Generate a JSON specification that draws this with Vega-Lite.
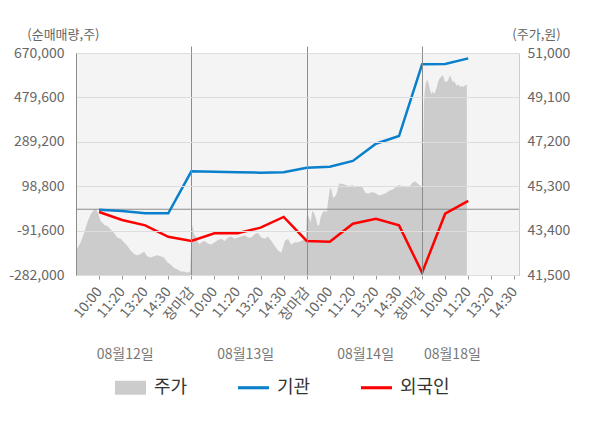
{
  "$schema": "https://vega.github.io/schema/vega-lite/v6.json",
  "width": 443,
  "height": 222,
  "padding": {"left": 8, "top": 28, "right": 5, "bottom": 5},
  "background": "#ffffff",
  "datasets": {
    "price": [
      {"t": 0, "p": 42650}, {"t": 0.06, "p": 42650}, {"t": 0.2, "p": 42900}, {"t": 0.35, "p": 43300},
      {"t": 0.49, "p": 43750}, {"t": 0.64, "p": 44100}, {"t": 0.78, "p": 44300}, {"t": 0.87, "p": 44300},
      {"t": 0.95, "p": 44150}, {"t": 1.07, "p": 43800}, {"t": 1.14, "p": 43750}, {"t": 1.21, "p": 43650},
      {"t": 1.36, "p": 43600}, {"t": 1.5, "p": 43450}, {"t": 1.65, "p": 43300}, {"t": 1.79, "p": 43100},
      {"t": 1.94, "p": 43050}, {"t": 2.08, "p": 42900}, {"t": 2.22, "p": 42750}, {"t": 2.37, "p": 42550},
      {"t": 2.51, "p": 42400}, {"t": 2.66, "p": 42350}, {"t": 2.8, "p": 42400}, {"t": 2.95, "p": 42500},
      {"t": 3.09, "p": 42300}, {"t": 3.24, "p": 42250}, {"t": 3.38, "p": 42300}, {"t": 3.52, "p": 42350},
      {"t": 3.67, "p": 42300}, {"t": 3.81, "p": 42250}, {"t": 3.96, "p": 42050}, {"t": 4.1, "p": 41950},
      {"t": 4.25, "p": 41800}, {"t": 4.39, "p": 41750}, {"t": 4.54, "p": 41650}, {"t": 4.68, "p": 41650},
      {"t": 4.83, "p": 41600}, {"t": 4.95, "p": 41650},
      {"t": 5.0, "p": 43050}, {"t": 5.03, "p": 43450}, {"t": 5.06, "p": 43650}, {"t": 5.11, "p": 43250},
      {"t": 5.22, "p": 43100}, {"t": 5.29, "p": 42900}, {"t": 5.36, "p": 42800}, {"t": 5.43, "p": 42900},
      {"t": 5.58, "p": 42950}, {"t": 5.72, "p": 42850}, {"t": 5.87, "p": 42800}, {"t": 6.01, "p": 42900},
      {"t": 6.15, "p": 43000}, {"t": 6.3, "p": 43050}, {"t": 6.44, "p": 42950}, {"t": 6.59, "p": 43100},
      {"t": 6.73, "p": 43150}, {"t": 6.88, "p": 43050}, {"t": 7.02, "p": 43100}, {"t": 7.17, "p": 43150},
      {"t": 7.31, "p": 43200}, {"t": 7.46, "p": 43100}, {"t": 7.6, "p": 43100}, {"t": 7.75, "p": 43250},
      {"t": 7.89, "p": 43300}, {"t": 8.03, "p": 43100}, {"t": 8.18, "p": 43050}, {"t": 8.32, "p": 43150},
      {"t": 8.47, "p": 42950}, {"t": 8.61, "p": 42750}, {"t": 8.76, "p": 42550}, {"t": 8.9, "p": 42450},
      {"t": 9.05, "p": 42950}, {"t": 9.19, "p": 43050}, {"t": 9.33, "p": 42800}, {"t": 9.48, "p": 42900},
      {"t": 9.62, "p": 42900}, {"t": 9.77, "p": 42950}, {"t": 9.91, "p": 43050}, {"t": 9.97, "p": 43100},
      {"t": 10.0, "p": 43950}, {"t": 10.03, "p": 44150}, {"t": 10.1, "p": 43950}, {"t": 10.17, "p": 43750},
      {"t": 10.24, "p": 44250}, {"t": 10.32, "p": 44150}, {"t": 10.39, "p": 43950}, {"t": 10.46, "p": 43650},
      {"t": 10.53, "p": 43600}, {"t": 10.61, "p": 44000}, {"t": 10.68, "p": 44150}, {"t": 10.75, "p": 44250},
      {"t": 10.87, "p": 44200}, {"t": 10.92, "p": 44600}, {"t": 11.01, "p": 45250}, {"t": 11.07, "p": 45150},
      {"t": 11.15, "p": 44800}, {"t": 11.26, "p": 44900}, {"t": 11.33, "p": 45100}, {"t": 11.4, "p": 45400},
      {"t": 11.54, "p": 45400}, {"t": 11.69, "p": 45350}, {"t": 11.83, "p": 45300}, {"t": 11.98, "p": 45350},
      {"t": 12.12, "p": 45250}, {"t": 12.27, "p": 45300}, {"t": 12.41, "p": 45250}, {"t": 12.56, "p": 45000},
      {"t": 12.7, "p": 45000}, {"t": 12.84, "p": 45050}, {"t": 12.99, "p": 45000}, {"t": 13.13, "p": 44900},
      {"t": 13.28, "p": 44950}, {"t": 13.42, "p": 45000}, {"t": 13.57, "p": 45100}, {"t": 13.71, "p": 45150},
      {"t": 13.86, "p": 45250}, {"t": 14.0, "p": 45350}, {"t": 14.14, "p": 45300}, {"t": 14.29, "p": 45250},
      {"t": 14.43, "p": 45250}, {"t": 14.58, "p": 45450}, {"t": 14.72, "p": 45500}, {"t": 14.87, "p": 45350},
      {"t": 14.97, "p": 45300},
      {"t": 15.03, "p": 45300}, {"t": 15.06, "p": 47650}, {"t": 15.08, "p": 48800}, {"t": 15.11, "p": 49350},
      {"t": 15.17, "p": 49750}, {"t": 15.23, "p": 49850}, {"t": 15.29, "p": 49650}, {"t": 15.34, "p": 49450},
      {"t": 15.4, "p": 49250}, {"t": 15.46, "p": 49350}, {"t": 15.52, "p": 49250}, {"t": 15.57, "p": 49350},
      {"t": 15.63, "p": 49500}, {"t": 15.69, "p": 49750}, {"t": 15.75, "p": 49900}, {"t": 15.81, "p": 49950},
      {"t": 15.86, "p": 50050}, {"t": 15.92, "p": 50000}, {"t": 15.98, "p": 49800}, {"t": 16.04, "p": 49750},
      {"t": 16.1, "p": 49800}, {"t": 16.15, "p": 49900}, {"t": 16.21, "p": 50050}, {"t": 16.27, "p": 49900},
      {"t": 16.33, "p": 49750}, {"t": 16.39, "p": 49800}, {"t": 16.44, "p": 49700}, {"t": 16.5, "p": 49600},
      {"t": 16.56, "p": 49650}, {"t": 16.62, "p": 49600}, {"t": 16.67, "p": 49550}, {"t": 16.73, "p": 49600},
      {"t": 16.79, "p": 49550}, {"t": 16.85, "p": 49600}, {"t": 16.94, "p": 49650}
    ],
    "flow": [
      {"t": 1, "s": "기관", "v": -2000}, {"t": 2, "s": "기관", "v": -7500}, {"t": 3, "s": "기관", "v": -17000},
      {"t": 4, "s": "기관", "v": -17500}, {"t": 5, "s": "기관", "v": 162500}, {"t": 6, "s": "기관", "v": 161000},
      {"t": 7, "s": "기관", "v": 158500}, {"t": 8, "s": "기관", "v": 157000}, {"t": 9, "s": "기관", "v": 158500},
      {"t": 10, "s": "기관", "v": 178000}, {"t": 11, "s": "기관", "v": 182500}, {"t": 12, "s": "기관", "v": 207000},
      {"t": 13, "s": "기관", "v": 281000}, {"t": 14, "s": "기관", "v": 314000}, {"t": 15, "s": "기관", "v": 621500},
      {"t": 16, "s": "기관", "v": 622500}, {"t": 17, "s": "기관", "v": 647000},
      {"t": 1, "s": "외국인", "v": -12000}, {"t": 2, "s": "외국인", "v": -46000}, {"t": 3, "s": "외국인", "v": -69000},
      {"t": 4, "s": "외국인", "v": -118000}, {"t": 5, "s": "외국인", "v": -136000}, {"t": 6, "s": "외국인", "v": -103000},
      {"t": 7, "s": "외국인", "v": -103000}, {"t": 8, "s": "외국인", "v": -79000}, {"t": 9, "s": "외국인", "v": -33000},
      {"t": 10, "s": "외국인", "v": -136000}, {"t": 11, "s": "외국인", "v": -139000}, {"t": 12, "s": "외국인", "v": -62000},
      {"t": 13, "s": "외국인", "v": -40500}, {"t": 14, "s": "외국인", "v": -69000}, {"t": 15, "s": "외국인", "v": -272000},
      {"t": 16, "s": "외국인", "v": -19000}, {"t": 17, "s": "외국인", "v": 35500}
    ]
  },
  "layer": [
    {
      "data": {"name": "price"},
      "mark": {"type": "area", "opacity": 1, "clip": true},
      "encoding": {
        "x": {
          "field": "t",
          "type": "quantitative",
          "scale": {"domain": [0, 19.2], "nice": false, "zero": false},
          "axis": {
            "orient": "bottom",
            "title": null,
            "values": [1, 2, 3, 4, 5, 6, 7, 8, 9, 10, 11, 12, 13, 14, 15, 16, 17, 18, 19],
            "labelExpr": "['장마감', '10:00', '11:20', '13:20', '14:30'][datum.value % 5]",
            "labelAngle": -50,
            "labelAlign": "right",
            "labelBaseline": "middle",
            "labelPadding": 10,
            "labelFontSize": 14,
            "grid": false,
            "ticks": true,
            "tickSize": 4,
            "tickColor": "#999999",
            "domainColor": "#999999",
            "encode": {
              "labels": {"update": {"fill": {"signal": "datum.value % 5 === 0 ? '#ff0000' : datum.value === 16 ? '#333333' : '#777777'"}}},
              "ticks": {"update": {"opacity": {"signal": "datum.value % 5 === 0 ? 1 : 0"}}}
            }
          }
        },
        "y": {
          "field": "p",
          "type": "quantitative",
          "scale": {"domain": [41500, 51000], "nice": false, "zero": false},
          "axis": {
            "orient": "right",
            "values": [41500, 43400, 45300, 47200, 49100, 51000],
            "format": ",d",
            "grid": false,
            "domainColor": "#cccccc",
            "labelPadding": 8,
            "title": "(주가,원)",
            "titleAngle": 0,
            "titleAlign": "center",
            "titleBaseline": "middle",
            "titleX": 17,
            "titleY": -19
          }
        },
        "y2": {"datum": 41500},
        "color": {"datum": "주가"}
      }
    },
    {
      "data": {"values": [{}]},
      "mark": {"type": "rule", "color": "#8c8c8c", "strokeWidth": 1},
      "encoding": {
        "x": {
          "datum": 0,
          "type": "quantitative",
          "scale": {"domain": [0, 19.2], "nice": false, "zero": false},
          "axis": {
            "orient": "bottom",
            "offset": 60,
            "title": null,
            "values": [2.11, 7.33, 12.53, 16.29],
            "labelExpr": "datum.value < 5 ? '08월12일' : datum.value < 10 ? '08월13일' : datum.value < 15 ? '08월14일' : '08월18일'",
            "labelAngle": 0,
            "labelAlign": "center",
            "labelBaseline": "top",
            "labelPadding": 12,
            "labelFontSize": 14,
            "labelColor": "#777777",
            "domain": false,
            "ticks": false,
            "grid": false
          }
        },
        "x2": {"datum": 19.2},
        "y": {
          "datum": 0,
          "type": "quantitative",
          "scale": {"domain": [-282000, 670000], "nice": false, "zero": false},
          "axis": null
        }
      }
    },
    {
      "data": {"name": "flow"},
      "mark": {"type": "line", "strokeWidth": 2.5},
      "encoding": {
        "x": {
          "field": "t",
          "type": "quantitative",
          "scale": {"domain": [0, 19.2], "nice": false, "zero": false},
          "axis": {
            "orient": "top",
            "title": null,
            "values": [5, 10, 15],
            "labels": false,
            "domain": false,
            "ticks": true,
            "tickSize": 7,
            "tickColor": "#8c8c8c",
            "grid": true,
            "gridColor": "#8c8c8c",
            "zindex": 1
          }
        },
        "y": {
          "field": "v",
          "type": "quantitative",
          "scale": {"domain": [-282000, 670000], "nice": false, "zero": false},
          "axis": {
            "orient": "left",
            "values": [-282000, -91600, 98800, 289200, 479600, 670000],
            "labelExpr": "(datum.value < 0 ? '-' : '') + format(abs(datum.value), ',d')",
            "grid": true,
            "gridColor": "#dddddd",
            "domainColor": "#8c8c8c",
            "labelPadding": 12,
            "title": "(순매매량,주)",
            "titleAngle": 0,
            "titleAlign": "right",
            "titleBaseline": "middle",
            "titleX": 23,
            "titleY": -19,
            "zindex": 1,
            "encode": {"grid": {"update": {"opacity": {"signal": "datum.value === 670000 ? 0 : 1"}}}}
          }
        },
        "color": {
          "field": "s",
          "type": "nominal",
          "scale": {"domain": ["주가", "기관", "외국인"], "range": ["#cccccc", "#0a80cc", "#ff0000"]},
          "legend": {
            "orient": "none",
            "legendX": 39,
            "legendY": 319,
            "direction": "horizontal",
            "title": null,
            "labelFontSize": 18,
            "labelColor": "#333333",
            "labelOffset": 8,
            "symbolSize": 961,
            "columnPadding": 50,
            "encode": {
              "symbols": {
                "update": {
                  "shape": {"signal": "datum.value === '주가' ? 'M-1,-0.45H1V0.45H-1Z' : 'M-1,-0.1H1V0.1H-1Z'"},
                  "fill": {"signal": "scale('color', datum.value)"},
                  "fillOpacity": {"value": 1},
                  "strokeWidth": {"value": 0}
                }
              }
            }
          }
        }
      }
    }
  ],
  "resolve": {
    "scale": {"y": "independent"},
    "axis": {"x": "independent", "y": "independent"}
  },
  "config": {
    "font": "Noto Sans CJK KR",
    "view": {"fill": "#f4f4f4", "stroke": null},
    "axis": {
      "labelColor": "#666666",
      "labelFontSize": 14,
      "titleColor": "#666666",
      "titleFontSize": 13,
      "titleFontWeight": "normal",
      "domainColor": "#999999",
      "ticks": false,
      "labelFlush": false,
      "labelOverlap": false,
      "labelBound": false
    }
  }
}
